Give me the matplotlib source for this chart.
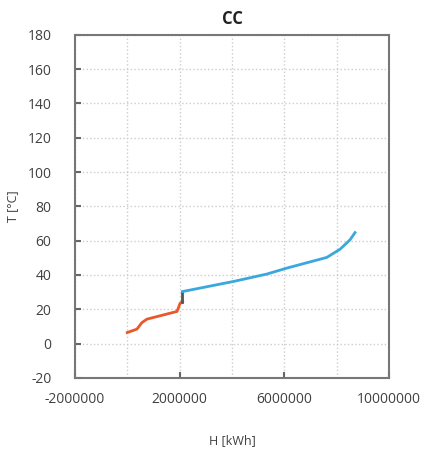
import numpy as np
import matplotlib.pyplot as plt
from matplotlib.ticker import FixedLocator, MultipleLocator

# cold composite curve pieces
h_low = [0, 370000, 560000, 750000, 1260000, 1900000, 2020000, 2110000]
t_low = [6.4, 8.4, 12.2, 14.2, 16.2, 18.7, 23.5, 24.5]

h_step = [2110000, 2110000]
t_step = [24.5, 30.3]

h_high = [2110000, 4060000, 5330000, 6100000, 7620000, 8130000, 8510000, 8700000]
t_high = [30.3, 36.2, 40.5, 44.0, 50.2, 55.0, 60.5, 64.7]

x_labels = [-2000000, 2000000, 6000000, 10000000]
x_grid = [0, 4000000, 8000000]

plt.rcParams['font.family'] = ['Open Sans', 'DejaVu Sans']
plt.rcParams['axes.unicode_minus'] = False

fig = plt.figure(figsize=(4.28, 4.53), dpi=100)
ax = fig.add_axes([0.175, 0.166, 0.734, 0.757])

ax.plot(h_low, t_low, color='#e8582a', lw=2)
ax.plot(h_step, t_step, color='#555555', lw=2)
ax.plot(h_high, t_high, color='#3aa8dc', lw=2)

ax.set_xlim(-2000000, 10000000)
ax.set_ylim(-20, 180)
ax.xaxis.set_major_locator(FixedLocator(x_labels))
ax.xaxis.set_minor_locator(FixedLocator(x_grid))
ax.yaxis.set_major_locator(MultipleLocator(20))
ax.ticklabel_format(style='plain', axis='x')

ax.grid(True, which='both', axis='x', color='#cccccc', ls=':', lw=1)
ax.grid(True, which='major', axis='y', color='#cccccc', ls=':', lw=1)
ax.set_axisbelow(True)

ax.tick_params(which='major', direction='in', length=4, width=1.5, color='#666666',
               labelsize=10, labelcolor='#404040')
ax.tick_params(which='minor', length=0)
ax.tick_params(axis='x', pad=10)
ax.tick_params(axis='y', pad=17)
for s in ax.spines.values():
    s.set_color('#777777')
    s.set_linewidth(1.5)

ax.set_title('CC', fontsize=12, fontweight='bold', color='#222222', pad=8)
ax.set_xlabel('H [kWh]', fontsize=9, color='#404040', labelpad=20)
ax.set_ylabel('T [°C]', fontsize=9, color='#404040', labelpad=6)

fig.savefig('out.png', dpi=100)
